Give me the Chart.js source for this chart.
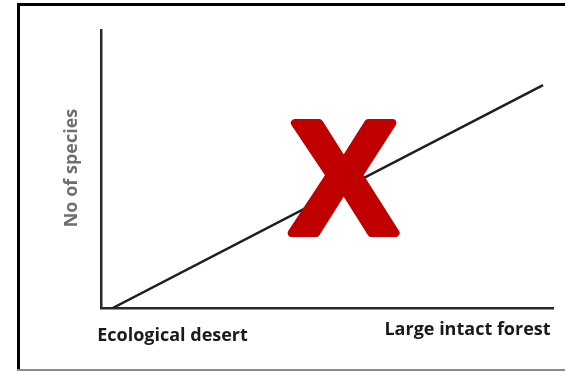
<!DOCTYPE html>
<html>
<head>
<meta charset="utf-8">
<script src="https://cdn.jsdelivr.net/npm/chart.js@4"></script>
<style>
html,body{margin:0;padding:0;background:#fff;}
#wrap{position:relative;width:565px;height:372px;}
</style>
</head>
<body>
<div id="wrap"><canvas id="c" width="565" height="372"></canvas></div>
<script>
// Data (conceptual relationship: habitat quality vs number of species)
const xValues = [2.6, 97.8];
const yValues = [0, 80.2];
const yAxisLabel = 'No of species';
const xEndLabels = ['Ecological desert', 'Large intact forest'];
const crossMark = 'X';

const points = xValues.map((x, i) => ({x: x, y: yValues[i]}));

const overlay = {
  id: 'overlay',
  beforeDraw(chart) {
    const ctx = chart.ctx;
    ctx.save();
    ctx.fillStyle = '#fff';
    ctx.fillRect(0, 0, chart.width, chart.height);
    // frame
    ctx.fillStyle = '#000';
    ctx.fillRect(17, 3, 548, 3);
    ctx.fillRect(17, 3, 3, 367);
    ctx.fillStyle = '#8a8a8a';
    ctx.fillRect(17, 369, 548, 2);
    ctx.restore();
  },
  afterDatasetsDraw(chart) {
    const ctx = chart.ctx;
    ctx.save();
    // big red X
    ctx.fillStyle = '#C00000';
    ctx.strokeStyle = '#C00000';
    ctx.lineWidth = 8;
    ctx.lineJoin = 'round';
    ctx.font = 'bold 160px "Liberation Sans", Arial, sans-serif';
    ctx.textAlign = 'center';
    ctx.textBaseline = 'alphabetic';
    ctx.fillText(crossMark, 343.5, 233);
    ctx.strokeText(crossMark, 343.5, 233);
    // axis end labels
    ctx.fillStyle = '#1a1a1a';
    ctx.font = 'bold 18px "Open Sans", sans-serif';
    ctx.textBaseline = 'middle';
    ctx.fillText(xEndLabels[0], 172.5, 336);
    ctx.fillText(xEndLabels[1], 467.5, 330);
    // y label
    ctx.translate(72, 168);
    ctx.rotate(-Math.PI / 2);
    ctx.fillStyle = '#6f6f6f';
    ctx.fillText(yAxisLabel, 0, 0);
    ctx.restore();
  }
};

new Chart(document.getElementById('c'), {
  type: 'line',
  data: {
    datasets: [{
      data: points,
      borderColor: '#1e1e1e',
      borderWidth: 2.5,
      pointRadius: 0,
      fill: false,
      tension: 0
    }]
  },
  options: {
    responsive: false,
    animation: false,
    events: [],
    layout: {padding: {left: 101, top: 30, right: 12, bottom: 64}},
    plugins: {legend: {display: false}, tooltip: {enabled: false}, title: {display: false}},
    scales: {
      x: {
        type: 'linear', min: 0, max: 100,
        ticks: {display: false},
        grid: {display: true, color: 'rgba(0,0,0,0)', drawTicks: false},
        border: {display: true, color: '#2a2a2a', width: 2.5}
      },
      y: {
        type: 'linear', min: 0, max: 100,
        ticks: {display: false},
        grid: {display: true, color: 'rgba(0,0,0,0)', drawTicks: false},
        border: {display: true, color: '#2a2a2a', width: 2.5}
      }
    }
  },
  plugins: [overlay]
});
</script>
</body>
</html>
